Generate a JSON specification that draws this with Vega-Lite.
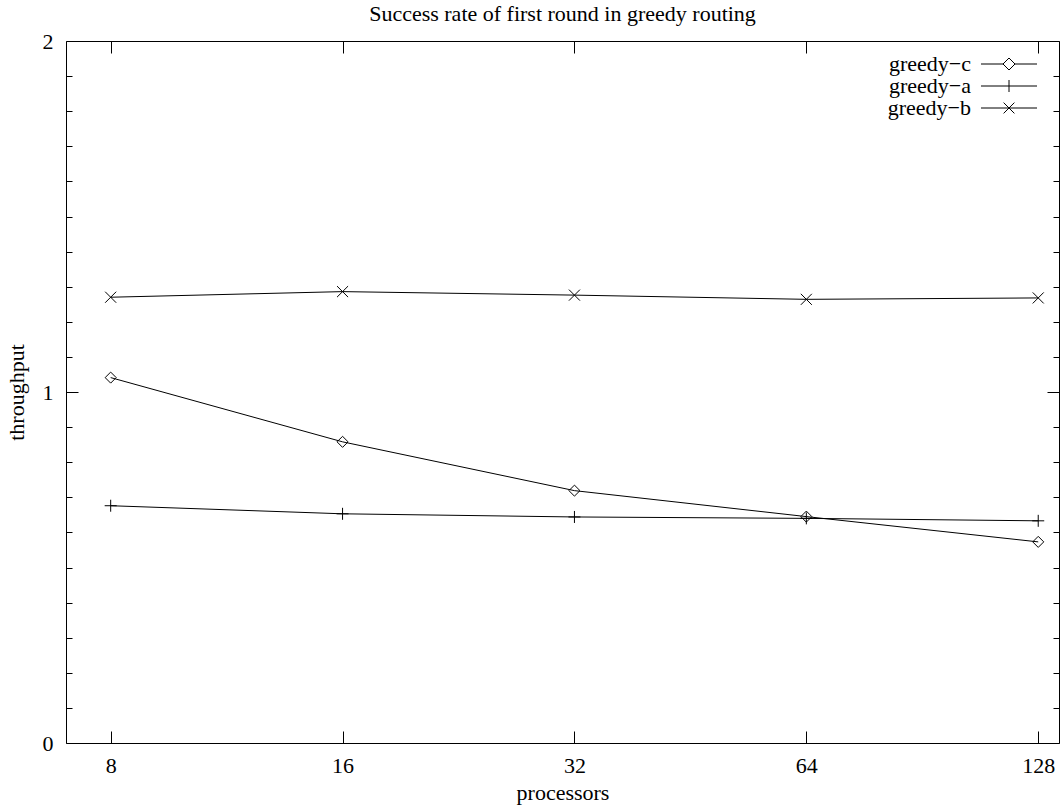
{
  "$schema": "https://vega.github.io/schema/vega-lite/v6.json",
  "width": 993,
  "height": 702,
  "autosize": "none",
  "padding": {"left": 66, "top": 41, "right": 3, "bottom": 64},
  "background": "white",
  "config": {
    "font": "Liberation Serif",
    "view": {"stroke": null},
    "legend": {"rowPadding": -4},
    "axis": {
      "grid": false,
      "domainColor": "black",
      "domainWidth": 1,
      "tickColor": "black",
      "tickWidth": 1,
      "labelColor": "black",
      "labelFont": "Liberation Serif",
      "labelFontSize": 22,
      "titleFont": "Liberation Serif",
      "titleFontSize": 22,
      "titleFontWeight": "normal",
      "titleColor": "black"
    }
  },
  "title": {
    "text": "Success rate of first round in greedy routing",
    "font": "Liberation Serif",
    "fontSize": 22,
    "fontWeight": "normal",
    "color": "black",
    "anchor": "middle",
    "baseline": "bottom",
    "offset": -18
  },
  "data": {
    "values": [
      {"processors": 8, "series": "greedy−c", "throughput": 1.041},
      {"processors": 16, "series": "greedy−c", "throughput": 0.858},
      {"processors": 32, "series": "greedy−c", "throughput": 0.719},
      {"processors": 64, "series": "greedy−c", "throughput": 0.645},
      {"processors": 128, "series": "greedy−c", "throughput": 0.573},
      {"processors": 8, "series": "greedy−a", "throughput": 0.676},
      {"processors": 16, "series": "greedy−a", "throughput": 0.653},
      {"processors": 32, "series": "greedy−a", "throughput": 0.644},
      {"processors": 64, "series": "greedy−a", "throughput": 0.640},
      {"processors": 128, "series": "greedy−a", "throughput": 0.633},
      {"processors": 8, "series": "greedy−b", "throughput": 1.270},
      {"processors": 16, "series": "greedy−b", "throughput": 1.286},
      {"processors": 32, "series": "greedy−b", "throughput": 1.276},
      {"processors": 64, "series": "greedy−b", "throughput": 1.264},
      {"processors": 128, "series": "greedy−b", "throughput": 1.268}
    ]
  },
  "layer": [
    {
      "mark": {"type": "line", "strokeWidth": 1, "color": "black"},
      "encoding": {
        "x": {
          "field": "processors",
          "type": "quantitative",
          "scale": {"type": "log", "base": 2, "domain": [7, 136.2], "nice": false},
          "axis": {
            "orient": "bottom",
            "values": [8, 16, 32, 64, 128],
            "tickSize": -12,
            "labelPadding": 24,
            "title": "processors",
            "titlePadding": 6
          }
        },
        "y": {
          "field": "throughput",
          "type": "quantitative",
          "scale": {"domain": [0, 2], "nice": false},
          "axis": {
            "orient": "left",
            "values": [0, 0.1, 0.2, 0.3, 0.4, 0.5, 0.6, 0.7, 0.8, 0.9, 1, 1.1, 1.2, 1.3, 1.4, 1.5, 1.6, 1.7, 1.8, 1.9, 2],
            "labelExpr": "abs(datum.value - round(datum.value)) < 0.001 ? format(datum.value, 'd') : ''",
            "tickSize": {"condition": {"test": "abs(datum.value - round(datum.value)) < 0.001", "value": -12}, "value": -6},
            "labelPadding": 25,
            "title": "throughput",
            "titlePadding": 14
          }
        },
        "detail": {"field": "series", "type": "nominal"}
      }
    },
    {
      "mark": {"type": "point", "filled": false, "strokeWidth": 1, "size": 144, "opacity": 1, "stroke": "black"},
      "encoding": {
        "x": {
          "field": "processors",
          "type": "quantitative",
          "axis": {
            "orient": "top",
            "values": [8, 16, 32, 64, 128],
            "tickSize": -12,
            "labels": false,
            "title": null,
            "minExtent": 0
          }
        },
        "y": {
          "field": "throughput",
          "type": "quantitative",
          "axis": {
            "orient": "right",
            "values": [0, 0.1, 0.2, 0.3, 0.4, 0.5, 0.6, 0.7, 0.8, 0.9, 1, 1.1, 1.2, 1.3, 1.4, 1.5, 1.6, 1.7, 1.8, 1.9, 2],
            "tickSize": {"condition": {"test": "abs(datum.value - round(datum.value)) < 0.001", "value": -12}, "value": -6},
            "labels": false,
            "title": null,
            "minExtent": 0
          }
        },
        "shape": {
          "field": "series",
          "type": "nominal",
          "scale": {
            "domain": ["greedy−c", "greedy−a", "greedy−b"],
            "range": ["M-0.92,0L0,-0.92L0.92,0L0,0.92Z", "M-1,0L1,0M0,-1L0,1", "M-0.92,-0.92L0.92,0.92M-0.92,0.92L0.92,-0.92"]
          },
          "legend": null
        }
      }
    },
    {
      "transform": [{"filter": "datum.processors < 0"}],
      "mark": {"type": "point", "filled": false, "strokeWidth": 1, "size": 144, "stroke": "black"},
      "encoding": {
        "x": {"field": "processors", "type": "quantitative", "axis": null},
        "y": {"field": "throughput", "type": "quantitative", "axis": null},
        "shape": {
          "field": "series",
          "type": "nominal",
          "scale": {
            "domain": ["greedy−c", "greedy−a", "greedy−b"],
            "range": [
              "M-4.667,0L-1,0M1,0L4.667,0M-1,0L0,-1L1,0L0,1Z",
              "M-4.667,0L4.667,0M0,-1L0,1",
              "M-4.667,0L4.667,0M-0.9,-0.9L0.9,0.9M-0.9,0.9L0.9,-0.9"
            ]
          },
          "legend": {
            "orient": "none",
            "legendX": 932,
            "legendY": 12,
            "padding": 0,
            "title": null,
            "labelFontSize": 22,
            "labelFont": "Liberation Serif",
            "labelColor": "black",
            "labelAlign": "right",
            "labelOffset": -49,
            "symbolSize": 144,
            "symbolStrokeWidth": 1,
            "symbolStrokeColor": "black",
            "symbolOpacity": 1,
            "symbolFillColor": "transparent",
            "rowPadding": -4
          }
        }
      }
    }
  ],
  "resolve": {"scale": {"shape": "independent"}, "axis": {"x": "independent", "y": "independent"}}
}
